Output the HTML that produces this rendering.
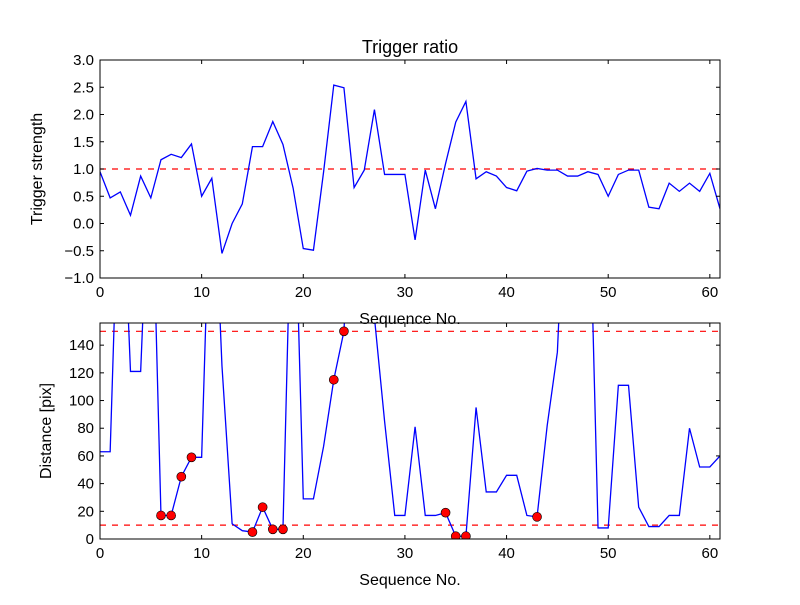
<!DOCTYPE html>
<html><head><meta charset="utf-8"><style>
body{margin:0;background:#fff;}
svg text{font-family:"Liberation Sans",sans-serif;fill:#000;}
</style></head><body>
<svg id="fig" width="800" height="600" xmlns="http://www.w3.org/2000/svg"></svg>
<script>
const seq = Array.from({length:62},(_,i)=>i);
const ratioValues=[0.95,0.47,0.58,0.15,0.87,0.47,1.17,1.27,1.21,1.46,0.5,0.83,-0.55,0.0,0.36,1.41,1.41,1.87,1.45,0.65,-0.46,-0.49,0.95,2.54,2.49,0.66,0.98,2.09,0.9,0.9,0.9,-0.3,0.98,0.27,1.1,1.86,2.24,0.82,0.95,0.87,0.66,0.6,0.96,1.01,0.98,0.98,0.87,0.87,0.95,0.9,0.5,0.9,0.98,0.98,0.3,0.27,0.74,0.59,0.74,0.59,0.92,0.27];
const distValues=[63,63,300,121,121,300,17,17,45,59,59,300,125,11,6,5,23,7,7,300,29,29,67,115,150,300,300,160,85,17,17,81,17,17,19,2,2,95,34,34,46,46,17,16,82,135,300,300,300,8,8,111,111,23,9,9,17,17,80,52,52,60];
const markerIdx=[6,7,8,9,15,16,17,18,23,24,34,35,36,43];
const xTicks=[0,10,20,30,40,50,60];
const ratioTicks=[-1.0,-0.5,0.0,0.5,1.0,1.5,2.0,2.5,3.0];
const distTicks=[0,20,40,60,80,100,120,140];
const ratioThreshold=[1.0];
const distThresholds=[10,150];

const NS="http://www.w3.org/2000/svg";
const svg=document.getElementById('fig');
function mk(tag,attrs,parent){const e=document.createElementNS(NS,tag);for(const k in attrs)e.setAttribute(k,attrs[k]);(parent||svg).appendChild(e);return e;}

function panel(o){
  const L=100,R=720,T=o.top,B=o.bottom;
  const sx=v=>L+(v-0)/(61-0)*(R-L);
  const sy=v=>B-(v-o.ymin)/(o.ymax-o.ymin)*(B-T);
  const g=mk('g',{});
  
  
  const cid='clip'+o.name;
  const cp=mk('clipPath',{id:cid},g);mk('rect',{x:L,y:T,width:R-L,height:B-T},cp);
  const plot=mk('g',{'clip-path':'url(#'+cid+')'},g);
  o.hlines.forEach(h=>{const l=mk('line',{x1:L,x2:R,y1:sy(h),y2:sy(h),stroke:'#ff0000','stroke-width':1.2,'stroke-dasharray':'6,6'},plot);
    
    });
  const pts=o.values.map((v,i)=>sx(seq[i]).toFixed(2)+','+sy(v).toFixed(2)).join(' ');
  const pl=mk('polyline',{points:pts,fill:'none',stroke:'#0000ff','stroke-width':1.3},plot);
  
  
  (o.markers||[]).forEach(i=>{const c=mk('circle',{cx:sx(seq[i]),cy:sy(o.values[i]),r:4.5,fill:'#ff0000',stroke:'#000','stroke-width':0.6},plot);
    
    });
  const fr=mk('rect',{x:L,y:T,width:R-L,height:B-T,fill:'none',stroke:'#000','stroke-width':1},g);
  
  
  xTicks.forEach(t=>{const x=sx(t);
    mk('line',{x1:x,x2:x,y1:B,y2:B-4,stroke:'#000'},g);mk('line',{x1:x,x2:x,y1:T,y2:T+4,stroke:'#000'},g);
    const tx=mk('text',{x:x,y:B+19,'text-anchor':'middle','font-size':15},g);tx.textContent=t;
    
    });
  o.yticks.forEach(t=>{const y=sy(t);
    mk('line',{x1:L,x2:L+4,y1:y,y2:y,stroke:'#000'},g);mk('line',{x1:R,x2:R-4,y1:y,y2:y,stroke:'#000'},g);
    const tx=mk('text',{x:L-6,y:y+5,'text-anchor':'end','font-size':15},g);tx.textContent=o.fmt(t);
    
    });
  const xl=mk('text',{x:(L+R)/2,y:B+46,'text-anchor':'middle','font-size':16},g);xl.textContent='Sequence No.';
  
  
  const yl=mk('text',{x:0,y:0,'text-anchor':'middle','font-size':16,transform:'translate('+o.ylx+','+(T+B)/2+') rotate(-90)'},g);yl.textContent=o.ylabel;
  
  
}
panel({name:'trigger-ratio-panel',top:60,bottom:278,ymin:-1,ymax:3,values:ratioValues,hlines:ratioThreshold,yticks:ratioTicks,fmt:t=>(t<0?'\u2212':'')+Math.abs(t).toFixed(1),ylabel:'Trigger strength',ylx:42});
panel({name:'distance-panel',top:323,bottom:539,ymin:0,ymax:156,values:distValues,markers:markerIdx,hlines:distThresholds,yticks:distTicks,fmt:t=>String(t),ylabel:'Distance [pix]',ylx:51});
const title=mk('text',{x:410,y:53,'text-anchor':'middle','font-size':18});title.textContent='Trigger ratio';


</script>
</body></html>
